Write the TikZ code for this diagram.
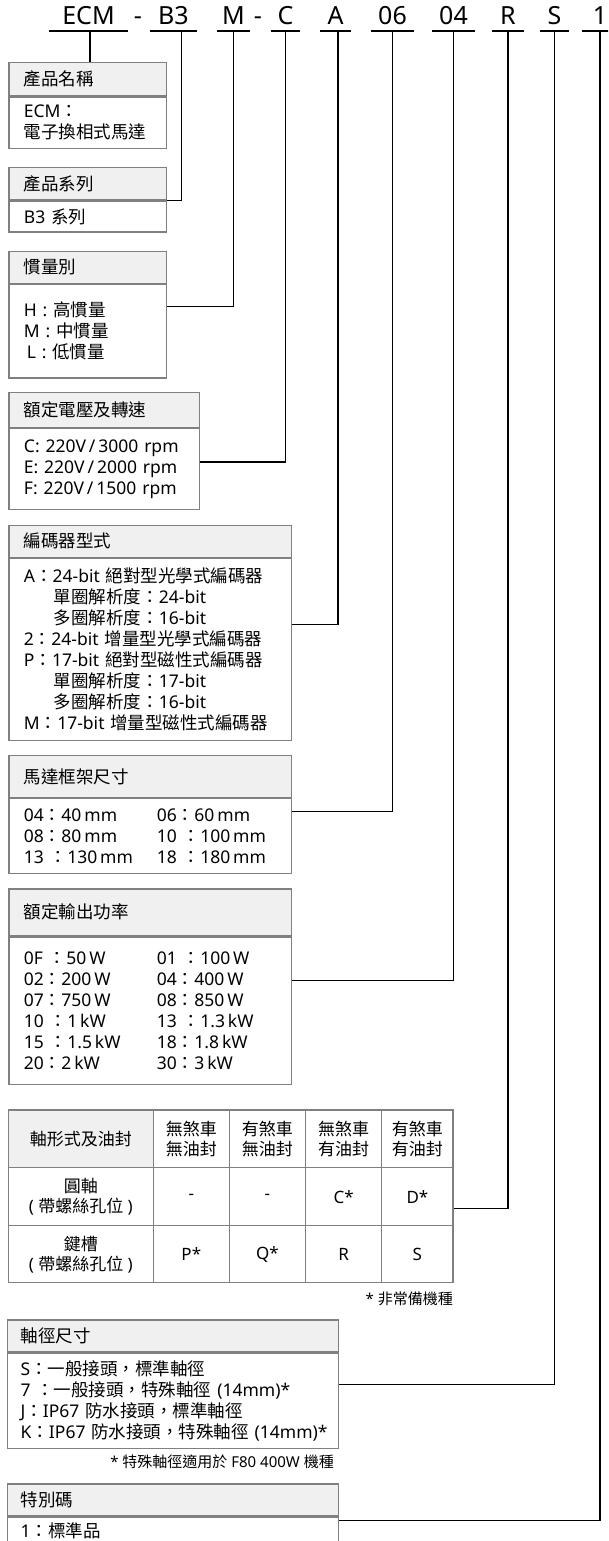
\documentclass[tikz,border=0pt]{standalone}
\usepackage{fontspec}
\setmainfont{Noto Sans}
\newfontfamily\cjk{Noto Sans CJK TC}
\usetikzlibrary{positioning}

% Han characters and full-width punctuation go to the CJK face
\XeTeXinterchartokenstate=1
\newXeTeXintercharclass\cjkcls
\makeatletter
\newcommand\cjkrange[2]{\count@=#1\relax
  \loop\XeTeXcharclass\count@=\cjkcls
  \ifnum\count@<#2\relax\advance\count@\@ne\repeat}
\makeatother
\cjkrange{"3000}{"303F}
\cjkrange{"4E00}{"9FFF}
\cjkrange{"FF00}{"FFEF}
\XeTeXinterchartoks 0 \cjkcls = {\begingroup\cjk}
\XeTeXinterchartoks 4095 \cjkcls = {\begingroup\cjk}
\XeTeXinterchartoks \cjkcls 0 = {\endgroup}
\XeTeXinterchartoks \cjkcls 4095 = {\endgroup}

\newcommand\colpair[2]{\makebox[133pt][l]{#1}#2}

\begin{document}
\begin{tikzpicture}[x=1pt,y=-1pt,
  code/.style={font=\fontsize{25}{30}\selectfont,inner xsep=0pt,inner ysep=6pt,text depth=0pt,anchor=south},
  ul/.style={line width=1.5pt},
  conn/.style={line width=1.5pt},
  hd/.style={draw=gray,line width=1.3pt,fill=black!6,anchor=north west,align=left,inner xsep=15pt,inner ysep=0pt,font=\fontsize{17.5}{21}\selectfont},
  bd/.style={draw=gray,line width=1.3pt,fill=white,align=left,inner xsep=15pt,inner ysep=0pt,font=\fontsize{17.5}{21}\selectfont},
  cell/.style={draw=gray,line width=1.3pt,align=center,inner sep=0pt,font=\fontsize{17}{20}\selectfont},
  note/.style={font=\fontsize{15}{18}\selectfont,inner sep=0pt,anchor=base east}]
\useasboundingbox (0,0) rectangle (608,1541);
\clip (0,0) rectangle (608,1541);
% ---- model code
\node[code,minimum width=79pt] (uECM) at (88.5,31) {ECM};
\node[code] (dash1) at (138,31) {-};
\node[code,minimum width=47pt] (uB3) at (173.5,31) {B3};
\node[code,minimum width=33pt] (uM) at (233.5,31) {M};
\node[code] (dash2) at (258,31) {-};
\node[code,minimum width=29pt] (uC) at (285.5,31) {C};
\node[code,minimum width=31pt] (uA) at (335.5,31) {A};
\node[code,minimum width=43pt] (u06) at (392.5,31) {06};
\node[code,minimum width=43pt] (u04) at (453.5,31) {04};
\node[code,minimum width=32pt] (uR) at (508,31) {R};
\node[code,minimum width=29pt] (uS) at (554.5,31) {S};
\node[code,minimum width=36pt] (u1) at (600,31) {1};
\foreach \c in {ECM,B3,M,C,A,06,04,R,S,1}{\draw[ul] (u\c.south west) -- (u\c.south east);}
% ---- product name / series / inertia
\node[hd,text width=127.7pt,minimum height=33.3pt] (hName) at (8.3,61.7) {產品名稱};
\node[bd,below=0pt of hName,text width=127.7pt,minimum height=51.7pt] (bName) {ECM：\\電子換相式馬達};
\node[hd,text width=127.7pt,minimum height=32.6pt] (hSeries) at (8.3,166.7) {產品系列};
\node[bd,below=0pt of hSeries,text width=127.7pt,minimum height=30.7pt] (bSeries) {B3 系列};
\node[hd,text width=127.7pt,minimum height=32pt] (hInertia) at (8.3,250.7) {慣量別};
\node[bd,below=0pt of hInertia,text width=127.7pt,minimum height=93.3pt] (bInertia) {H : 高慣量\\M : 中慣量\\\hspace*{3pt}L : 低慣量};
% ---- voltage / encoder
\node[hd,text width=160.7pt,minimum height=34.7pt] (hVolt) at (8.3,392) {額定電壓及轉速};
\node[bd,below=0pt of hVolt,text width=160.7pt,minimum height=80.6pt] (bVolt) {C: 220V\,/\,3000 rpm\\E: 220V\,/\,2000 rpm\\F: 220V\,/\,1500 rpm};
\node[hd,text width=252.7pt,minimum height=32pt] (hEnc) at (8.3,524.7) {編碼器型式};
\node[bd,below=0pt of hEnc,text width=252.7pt,minimum height=182pt] (bEnc) {A：24-bit 絕對型光學式編碼器\\
  \hspace*{30pt}單圈解析度：24-bit\\
  \hspace*{30pt}多圈解析度：16-bit\\
  2：24-bit 增量型光學式編碼器\\
  P：17-bit 絕對型磁性式編碼器\\
  \hspace*{30pt}單圈解析度：17-bit\\
  \hspace*{30pt}多圈解析度：16-bit\\
  M：17-bit 增量型磁性式編碼器};
% ---- frame size / power
\node[hd,text width=252.7pt,minimum height=41.7pt] (hFrame) at (8.3,755) {馬達框架尺寸};
\node[bd,below=0pt of hFrame,text width=252.7pt,minimum height=74.6pt] (bFrame) {\colpair{04：40\,mm}{06：60\,mm}\\
  \colpair{08：80\,mm}{10 ：100\,mm}\\
  \colpair{13 ：130\,mm}{18 ：180\,mm}};
\node[hd,text width=252.7pt,minimum height=46.7pt] (hPower) at (8.3,888.3) {額定輸出功率};
\node[bd,below=0pt of hPower,text width=252.7pt,minimum height=147.7pt] (bPower) {\colpair{0F ：50\,W}{01 ：100\,W}\\
  \colpair{02：200\,W}{04：400\,W}\\
  \colpair{07：750\,W}{08：850\,W}\\
  \colpair{10 ：1\,kW}{13 ：1.3\,kW}\\
  \colpair{15 ：1.5\,kW}{18：1.8\,kW}\\
  \colpair{20：2\,kW}{30：3\,kW}};
% ---- shaft table
\node[cell,fill=black!6,minimum width=145pt,minimum height=57.7pt] (tHead) at (80.8,1138.9) {軸形式及油封};
\node[cell,minimum width=145pt,minimum height=58pt] (tRound) at (80.8,1196.7) {圓軸\\( 帶螺絲孔位 )};
\node[cell,minimum width=145pt,minimum height=57pt] (tKey) at (80.8,1254.2) {鍵槽\\( 帶螺絲孔位 )};
\foreach \x/\w/\n/\hd/\ra/\rb in {191.3/76/1/無煞車\\無油封/-/P*,267.4/76.2/2/有煞車\\無油封/-/Q*,
    343.6/76.2/3/無煞車\\有油封/C*/R,417.4/71.3/4/有煞車\\有油封/D*/S}{
  \node[cell,minimum width=\w pt,minimum height=57.7pt] (tH\n) at (\x,1138.9) {\hd};
  \node[cell,minimum width=\w pt,minimum height=58pt] (tA\n) at (\x,1196.7) {\ra};
  \node[cell,minimum width=\w pt,minimum height=57pt] (tB\n) at (\x,1254.2) {\rb};
}
\node[note] (nTable) at (453,1304) {* 非常備機種};
% ---- shaft diameter / special code
\node[hd,inner xsep=13pt,text width=305pt,minimum height=31.7pt] (hShaft) at (7,1319.3) {軸徑尺寸};
\node[bd,inner xsep=13pt,below=0pt of hShaft,text width=305pt,minimum height=95.7pt] (bShaft) {S：一般接頭，標準軸徑\\
  7 ：一般接頭，特殊軸徑 (14mm)*\\
  J：IP67 防水接頭，標準軸徑\\
  \mbox{K：IP67 防水接頭，特殊軸徑 (14mm)*}};
\node[note] (nShaft) at (334,1467) {* 特殊軸徑適用於 F80 400W 機種};
\node[hd,inner xsep=13pt,text width=305pt,minimum height=31.7pt] (hSpec) at (7,1483.3) {特別碼};
\node[bd,inner xsep=13pt,below=0pt of hSpec,text width=305pt,minimum height=27pt] (bSpec) {1：標準品};
% ---- connections
\draw[conn] ([xshift=1.5pt]uECM.south) -- ([xshift=1.5pt]uECM.south |- hName.north);
\draw[conn] ([xshift=8pt]uB3.south) |- (hSeries.south east);
\draw[conn] (uM.south) |- ([yshift=-22.6pt]bInertia.north east);
\draw[conn] (uC.south) |- ([yshift=-34pt]bVolt.north east);
\draw[conn] ([xshift=2.5pt]uA.south) |- ([yshift=-66.6pt]bEnc.north east);
\draw[conn] (u06.south) |- ([yshift=-13.3pt]bFrame.north east);
\draw[conn] (u04.south) |- ([yshift=-44.3pt]bPower.north east);
\draw[conn] (uR.south) |- ([yshift=-41.3pt]tA4.north east);
\draw[conn] (uS.south) |- ([yshift=-32.3pt]bShaft.north east);
\draw[conn] (u1.south) |- ([yshift=-4pt]bSpec.north east);
\end{tikzpicture}
\end{document}
